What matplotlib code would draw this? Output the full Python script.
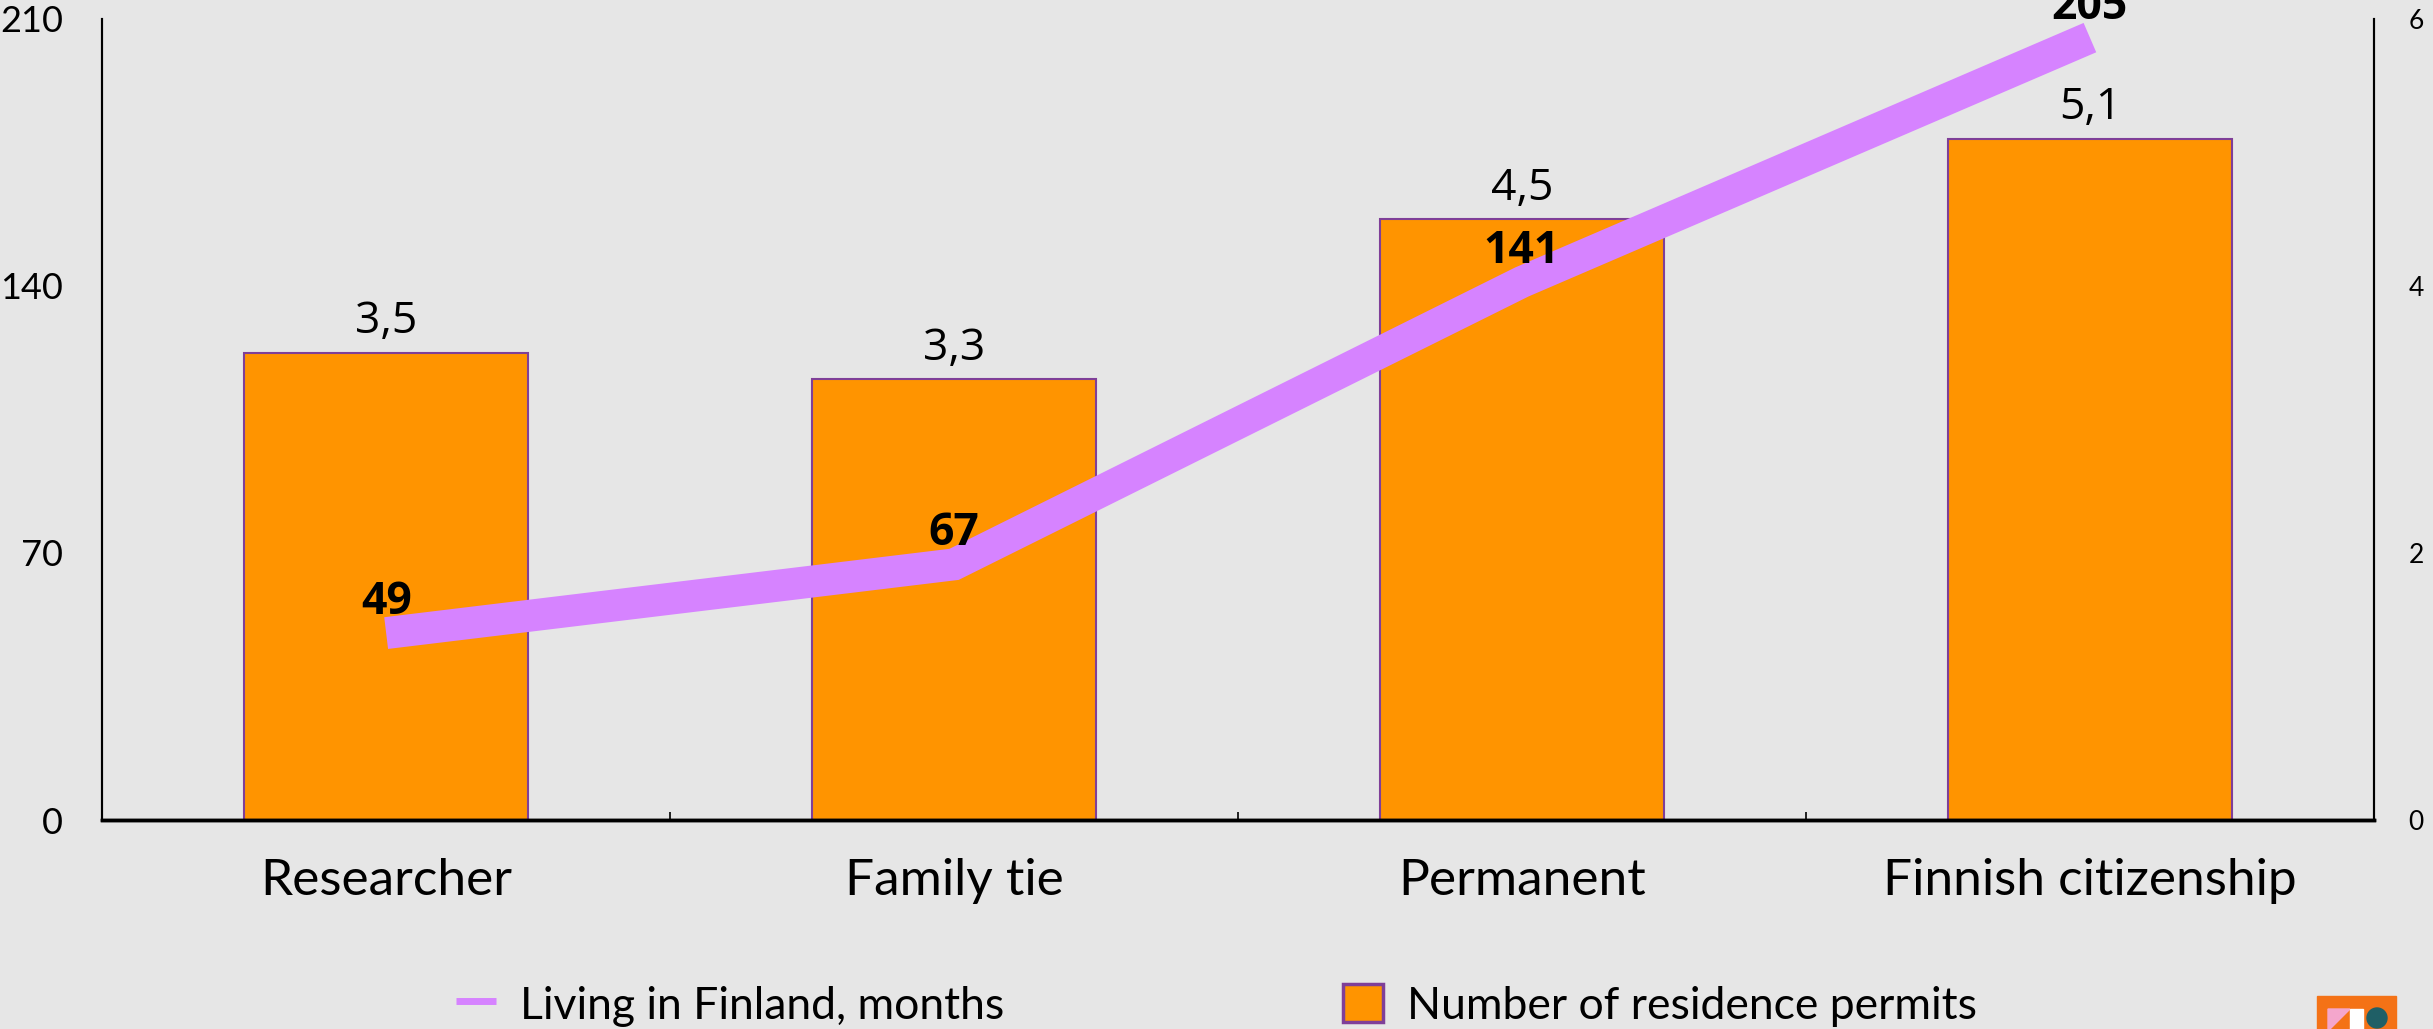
import matplotlib.pyplot as plt
from matplotlib.lines import Line2D
from matplotlib.patches import Patch, Rectangle, Polygon, Circle
from matplotlib.transforms import IdentityTransform

categories = ["Researcher", "Family tie", "Permanent", "Finnish citizenship"]
months = [49, 67, 141, 205]          # Living in Finland, months (left axis)
permits = [3.5, 3.3, 4.5, 5.1]       # Number of residence permits (right axis)
left_ticks = [0, 70, 140, 210]
right_ticks = [0, 2, 4, 6]

BG = "#e6e6e6"
ORANGE = "#ff9400"
EDGE = "#7f3f98"
PINK = "#d683ff"
TEXT_FONT = ["Lato", "DejaVu Sans"]
NUM_FONT = ["Open Sans", "DejaVu Sans"]

W, H = 2433, 1029
fig = plt.figure(figsize=(W / 100, H / 100), dpi=100)
fig.patch.set_facecolor(BG)

ax = fig.add_axes([0.042, 0.203, 0.9337, 0.779])
ax2 = ax.twinx()
ax.set_zorder(ax2.get_zorder() + 1)
ax.patch.set_visible(False)
ax2.set_facecolor(BG)

x = list(range(len(categories)))

# bars on the right axis
ax2.bar(x, permits, width=0.5, color=ORANGE, edgecolor=EDGE, linewidth=1.5)
for xi, v in zip(x, permits):
    ax2.annotate(f"{v:.1f}".replace(".", ","), (xi, v), xytext=(0, 6),
                 textcoords="offset points", ha="center", va="bottom",
                 fontsize=32, family=NUM_FONT)

# line on the left axis
ax.plot(x, months, color=PINK, lw=23, solid_capstyle="butt",
        solid_joinstyle="miter")
for xi, v in zip(x, months):
    ax.annotate(str(v), (xi, v), xytext=(0, 22), textcoords="offset points",
                ha="center", va="center", fontsize=32, fontweight="bold",
                family=NUM_FONT, annotation_clip=False)

ax.set_xlim(-0.5, 3.5)
ax.set_ylim(0, 210)
ax2.set_ylim(0, 6)
ax.set_yticks(left_ticks)
ax2.set_yticks(right_ticks)
ax.tick_params(axis="y", length=0, pad=28, labelsize=26)
ax2.tick_params(axis="y", length=0, pad=25, labelsize=19)
for lab in ax.get_yticklabels():
    lab.set_family(TEXT_FONT)
for lab in ax2.get_yticklabels():
    lab.set_family(TEXT_FONT)

ax.set_xticks(x)
ax.set_xticklabels(categories, family=TEXT_FONT, fontsize=37)
ax.set_xticks([0.5, 1.5, 2.5], minor=True)
ax.tick_params(axis="x", which="major", length=0, pad=27)
ax.tick_params(axis="x", which="minor", direction="in", length=6, width=1.2)

for a in (ax, ax2):
    a.spines["top"].set_visible(False)
    a.spines["left"].set_linewidth(1.5)
    a.spines["right"].set_linewidth(1.5)
    a.spines["bottom"].set_linewidth(2.5)

handles = [
    Line2D([], [], color=PINK, lw=5, solid_capstyle="butt"),
    Patch(facecolor=ORANGE, edgecolor=EDGE, linewidth=2.5),
]
labels = ["Living in Finland, months", "Number of residence permits"]
fig.legend(handles, labels, loc="center", bbox_to_anchor=(0.5, 0.023),
           ncol=2, frameon=False, prop={"family": TEXT_FONT, "size": 32},
           handlelength=0.9, handleheight=0.95, handletextpad=0.55,
           columnspacing=7.6)

# small logo in the bottom right corner (pixel coordinates, y from bottom)
px = IdentityTransform()
fig.patches.append(Rectangle((2317, -6), 79, 39, transform=px, color="#f47216"))
fig.patches.append(Polygon([(2328, 20), (2350, 20), (2328, -2)], closed=True,
                           transform=px, color="#f4a6cc"))
fig.patches.append(Rectangle((2350, -6), 13, 26, transform=px, color="white"))
fig.patches.append(Circle((2377, 11), 10, transform=px, color="#1f5f66"))

fig.savefig("out.png", dpi=100, facecolor=BG)
